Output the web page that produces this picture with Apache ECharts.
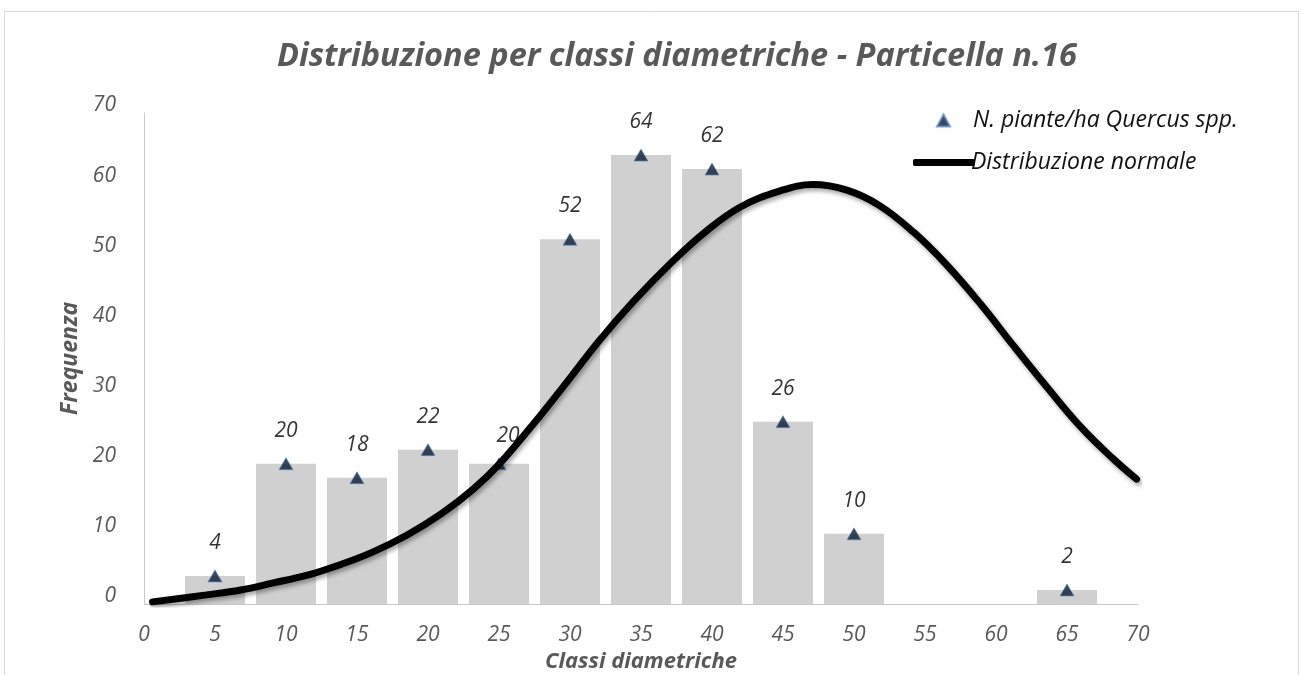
<!DOCTYPE html>
<html>
<head>
<meta charset="utf-8">
<script src="https://cdn.jsdelivr.net/npm/echarts@6/dist/echarts.min.js"></script>
<style>
  html, body { margin: 0; padding: 0; background: #ffffff; }
  #chart { width: 1301px; height: 675px; }
</style>
</head>
<body>
<div id="chart"></div>
<script>
// Diameter classes (cm) and number of trees per hectare
const classi = [5, 10, 15, 20, 25, 30, 35, 40, 45, 50, 65];
const piante = [4, 20, 18, 22, 20, 52, 64, 62, 26, 10, 2];

// Fitted normal distribution curve, sampled points (diameter, frequency)
const curvaX = [0.6, 4.4, 6.8, 9.1, 11.5, 13.8, 16.1, 18.5, 20.9, 23.2, 25.0, 27.8, 30.0, 32.0, 34.5, 37.0, 39.5, 42.0, 44.8, 47.1, 49.5, 51.8, 54.2, 56.5, 58.9, 61.2, 63.6, 65.9, 68.2, 69.9];
const curvaY = [0.3, 1.3, 2.0, 3.0, 4.1, 5.6, 7.4, 9.8, 12.8, 16.4, 19.9, 26.6, 32.2, 37.4, 43.2, 48.4, 53.0, 56.6, 58.9, 59.8, 59.0, 56.8, 53.0, 48.4, 42.8, 36.9, 30.9, 25.4, 20.8, 17.8];

const xTicks = [0, 5, 10, 15, 20, 25, 30, 35, 40, 45, 50, 55, 60, 65, 70];
const yTicks = [0, 10, 20, 30, 40, 50, 60, 70];

const FONT = '"Open Sans", "DejaVu Sans", sans-serif';
const GREY = '#595959';

const barData = classi.map((c, i) => [c, piante[i]]);
const pointData = classi.map((c, i) => {
  const item = { value: [c, piante[i]] };
  if (c === 25) item.label = { offset: [9, 5] };
  return item;
});
const curveData = curvaX.map((x, i) => [x, curvaY[i]]);

const chart = echarts.init(document.getElementById('chart'), null, { renderer: 'canvas' });

chart.setOption({
  backgroundColor: '#ffffff',
  animation: false,
  title: {
    text: 'Distribuzione per classi diametriche - Particella n.16',
    left: 272,
    top: 35,
    textStyle: {
      fontFamily: FONT,
      fontStyle: 'italic',
      fontWeight: 'bold',
      fontSize: 32.5,
      color: GREY
    }
  },
  graphic: [{
    type: 'rect',
    shape: { x: 4.5, y: 11.5, width: 1294, height: 720 },
    style: { fill: 'none', stroke: '#d9d9d9', lineWidth: 1 },
    silent: true
  }],
  legend: [
    {
      orient: 'vertical',
      left: 931,
      top: 104,
      itemWidth: 13,
      itemHeight: 12,
      icon: 'triangle',
      textStyle: {
        fontFamily: FONT, fontStyle: 'italic', fontSize: 23, color: '#111111',
        padding: [0, 0, 0, 18]
      },
      data: ['N. piante/ha Quercus spp.']
    },
    {
      orient: 'vertical',
      left: 908,
      top: 146,
      itemWidth: 62,
      itemHeight: 7,
      icon: 'roundRect',
      itemStyle: { color: '#000000', borderWidth: 0 },
      textStyle: {
        fontFamily: FONT, fontStyle: 'italic', fontSize: 23, color: '#111111',
        padding: [0, 0, 0, -9]
      },
      data: ['Distribuzione normale']
    }
  ],
  grid: { left: 144, right: 163, top: 113, bottom: 71, containLabel: false, outerBoundsMode: 'none' },
  xAxis: {
    type: 'value',
    min: 0,
    max: 70,
    interval: 5,
    name: 'Classi diametriche',
    nameLocation: 'middle',
    nameGap: 44,
    nameTextStyle: {
      fontFamily: FONT, fontStyle: 'italic', fontWeight: 'bold', fontSize: 22, color: GREY
    },
    axisLine: { show: true, lineStyle: { color: '#c8c8c8', width: 1 } },
    axisTick: { show: false },
    splitLine: { show: false },
    axisLabel: {
      margin: 21,
      fontFamily: FONT, fontStyle: 'italic', fontSize: 21, color: GREY,
      formatter: v => (xTicks.indexOf(v) >= 0 ? String(v) : '')
    }
  },
  yAxis: {
    type: 'value',
    min: 0,
    max: 70,
    interval: 10,
    name: 'Frequenza',
    nameLocation: 'middle',
    nameGap: 60,
    nameRotate: 90,
    nameTextStyle: {
      fontFamily: FONT, fontStyle: 'italic', fontWeight: 'bold', fontSize: 23, color: GREY
    },
    axisLine: { show: true, lineStyle: { color: '#c8c8c8', width: 1 } },
    axisTick: { show: false },
    splitLine: { show: false },
    axisLabel: {
      margin: 28,
      verticalAlign: 'bottom',
      lineHeight: 15,
      fontFamily: FONT, fontStyle: 'italic', fontSize: 21, color: GREY,
      formatter: v => (yTicks.indexOf(v) >= 0 ? String(v) : '')
    }
  },
  series: [
    {
      name: 'barre',
      type: 'bar',
      data: barData,
      barWidth: 60,
      itemStyle: { color: '#d0d0d0' },
      z: 1,
      silent: true
    },
    {
      name: 'N. piante/ha Quercus spp.',
      type: 'scatter',
      data: pointData,
      symbol: 'triangle',
      symbolSize: [14, 12],
      itemStyle: { color: '#0b1a2e', borderColor: '#5b8fd0', borderWidth: 0.8 },
      label: {
        show: true,
        position: 'top',
        distance: 16,
        fontFamily: FONT,
        fontStyle: 'italic',
        fontSize: 21,
        color: '#000000',
        formatter: p => String(p.value[1])
      },
      z: 3
    },
    {
      name: 'Distribuzione normale',
      type: 'line',
      data: curveData,
      smooth: 0.4,
      symbol: 'none',
      lineStyle: {
        color: '#000000',
        width: 7,
        cap: 'round',
        shadowColor: 'rgba(0,0,0,0.35)',
        shadowBlur: 4,
        shadowOffsetX: 2,
        shadowOffsetY: 3
      },
      itemStyle: { color: '#000000' },
      z: 4
    }
  ]
});
</script>
</body>
</html>
